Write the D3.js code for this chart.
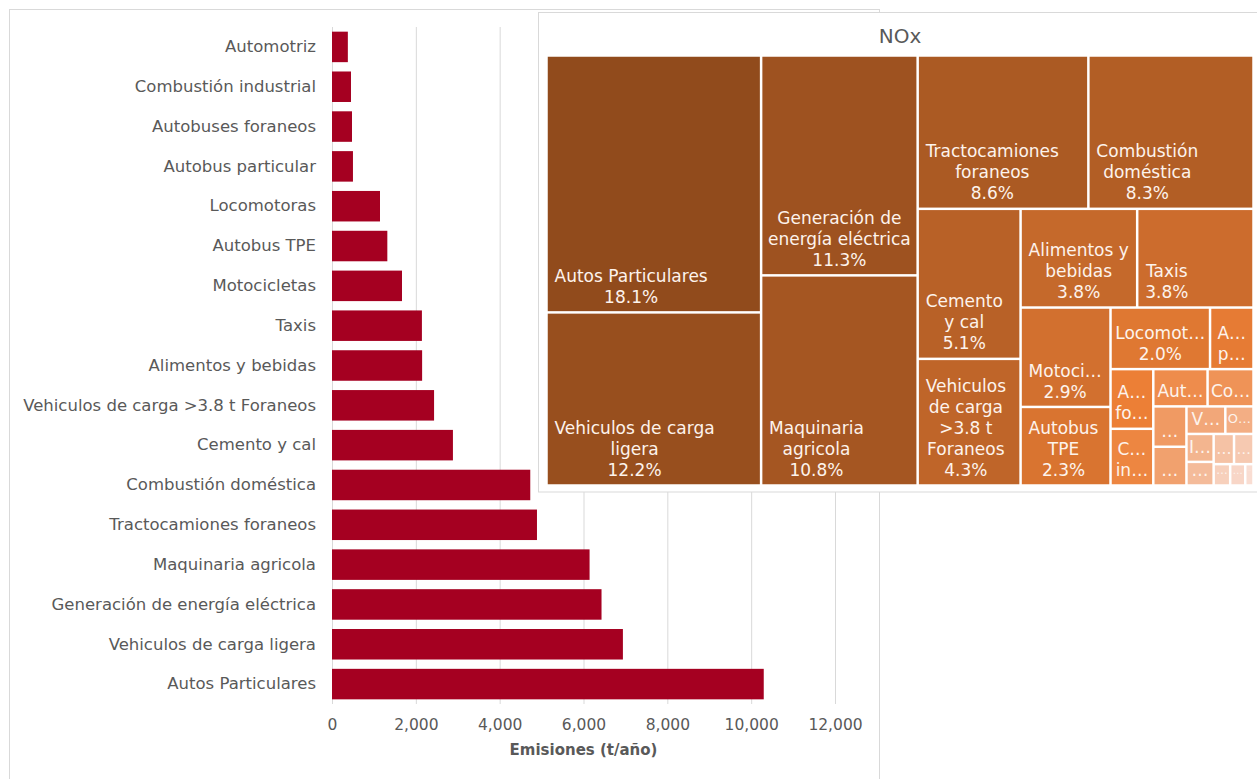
<!DOCTYPE html>
<html>
<head>
<meta charset="utf-8">
<script src="https://cdn.jsdelivr.net/npm/d3@7"></script>
<style>
  html, body { margin: 0; padding: 0; background: #ffffff; }
  svg { display: block; font-family: "DejaVu Sans", sans-serif; }
</style>
</head>
<body>
<svg id="chart" width="1257" height="779"></svg>
<script>
// ---------------- DATA ----------------
// Bar chart categories, top to bottom
const barCategories = [
  "Automotriz", "Combustión industrial", "Autobuses foraneos", "Autobus particular",
  "Locomotoras", "Autobus TPE", "Motocicletas", "Taxis", "Alimentos y bebidas",
  "Vehiculos de carga >3.8 t Foraneos", "Cemento y cal", "Combustión doméstica",
  "Tractocamiones foraneos", "Maquinaria agricola", "Generación de energía eléctrica",
  "Vehiculos de carga ligera", "Autos Particulares"
];
// Emissions (t/año), same order
const barValues = [
  378, 453, 477, 500,
  1145, 1320, 1670, 2145, 2150,
  2435, 2885, 4730,
  4890, 6145, 6430,
  6940, 10300
];
const xTickValues = [0, 2000, 4000, 6000, 8000, 10000, 12000];
const xAxisTitle = "Emisiones (t/año)";

// Smaller sources that only appear in the treemap
const extraCategories = [
  "Combustión comercial", "Metálica básica", "Minerales no metálicos",
  "Vehiculos de carga >3.8 t Locales", "Otros", "Industria química",
  "Madera y productos", "Papel y celulosa", "Maquinaria y equipo",
  "Minería", "Pinturas y tintas", "Metalmecánica"
];
const extraValues = [320, 250, 240, 200, 145, 142, 120, 115, 110, 66, 60, 33];

const treemapTitle = "NOx";
// Label lines as displayed in each treemap cell (same order as barCategories, then extraCategories)
const barTreemapLines = [
  ["Aut…"], ["C…", "in…"], ["A…", "fo…"], ["A…", "p…"],
  ["Locomot…"], ["Autobus", "TPE"], ["Motoci…"], ["Taxis"], ["Alimentos y", "bebidas"],
  ["Vehiculos", "de carga", ">3.8 t", "Foraneos"], ["Cemento", "y cal"], ["Combustión", "doméstica"],
  ["Tractocamiones", "foraneos"], ["Maquinaria", "agricola"], ["Generación de", "energía eléctrica"],
  ["Vehiculos de carga", "ligera"], ["Autos Particulares"]
];
const extraTreemapLines = [
  ["Co…"], ["…"], ["…"], ["V…"], ["O…"], ["I…"], ["…"], ["…"], ["…"], ["…"], ["…"], ["…"]
];

// ---------------- CHART ----------------
const svg = d3.select("#chart");
const grey = "#595959";
const gridColor = "#d9d9d9";

// Bar chart panel
svg.append("rect")
  .attr("x", 9.5).attr("y", 9.5).attr("width", 870).attr("height", 800)
  .attr("fill", "#ffffff").attr("stroke", gridColor);

const x = d3.scaleLinear().domain([0, 12000]).range([332, 835]);
const y = d3.scaleBand().domain(barCategories).range([27, 704])
  .paddingInner(0.234).paddingOuter(0.117);

// gridlines + tick labels
const xAxis = d3.axisBottom(x).tickValues(xTickValues)
  .tickFormat(d3.format(",")).tickSize(-(704 - 27)).tickPadding(15);
const gx = svg.append("g").attr("transform", "translate(0,704)").call(xAxis);
gx.select(".domain").remove();
gx.selectAll(".tick line").attr("stroke", gridColor).attr("stroke-width", 1);
gx.selectAll(".tick text").attr("fill", grey).attr("font-size", 15.5)
  .attr("font-family", "DejaVu Sans");

// bars
svg.append("g").selectAll("rect")
  .data(barCategories.map((c, i) => ({ c, v: barValues[i] })))
  .join("rect")
  .attr("x", x(0))
  .attr("y", d => y(d.c))
  .attr("width", d => x(d.v) - x(0))
  .attr("height", y.bandwidth())
  .attr("fill", "#A50021");

// category labels
const yAxis = d3.axisLeft(y).tickSize(0).tickPadding(16);
const gy = svg.append("g").attr("transform", `translate(${x(0)},0)`).call(yAxis);
gy.select(".domain").remove();
gy.selectAll(".tick text").attr("fill", grey).attr("font-size", 16.5)
  .attr("font-family", "DejaVu Sans");

// axis title
svg.append("text")
  .attr("x", (x(0) + x(12000)) / 2).attr("y", 755)
  .attr("text-anchor", "middle").attr("fill", grey)
  .attr("font-size", 15).attr("font-weight", "bold")
  .text(xAxisTitle);

// ---------------- TREEMAP ----------------
svg.append("rect")
  .attr("x", 538.5).attr("y", 12.5).attr("width", 730).attr("height", 479.5)
  .attr("fill", "#ffffff").attr("stroke", gridColor);

svg.append("text")
  .attr("x", 900).attr("y", 43).attr("text-anchor", "middle")
  .attr("fill", grey).attr("font-size", 20)
  .text(treemapTitle);

const tmData = barCategories.map((c, i) => ({ name: c, value: barValues[i], lines: barTreemapLines[i] }))
  .concat(extraCategories.map((c, i) => ({ name: c, value: extraValues[i], lines: extraTreemapLines[i] })));
const total = d3.sum(tmData, d => d.value);

const root = d3.hierarchy({ children: tmData })
  .sum(d => d.value || 0)
  .sort((a, b) => b.value - a.value);

const tmX0 = 546.5, tmY0 = 55.5, tmW = 707, tmH = 430;
d3.treemap().tile(d3.treemapSquarify.ratio(1)).size([tmW, tmH])(root);

const leaves = root.leaves();
const n = leaves.length;
const color = d3.scaleLinear()
  .domain([0, 14, n - 1])
  .range(["#914B1C", "#EC7F36", "#F9DDD2"]);

const pct = d3.format(".1%");
const tg = svg.append("g").attr("transform", `translate(${tmX0},${tmY0})`);
const gap = 1.25;
const lineH = 21;
const baseFs = 17;

const cells = tg.selectAll("g.cell").data(leaves).join("g").attr("class", "cell");
cells.append("rect")
  .attr("x", d => d.x0 + gap).attr("y", d => d.y0 + gap)
  .attr("width", d => Math.max(0, d.x1 - d.x0 - 2 * gap))
  .attr("height", d => Math.max(0, d.y1 - d.y0 - 2 * gap))
  .attr("fill", (d, i) => color(i));

cells.each(function (d) {
  const g = d3.select(this);
  const w = d.x1 - d.x0, h = d.y1 - d.y0;
  const maxLines = Math.max(1, Math.floor((h - 10) / lineH));
  const lines = d.data.lines.slice(0, maxLines);
  if (lines.length < maxLines) lines.push(pct(d.value / total));
  const txt = g.append("text").attr("fill", "#fdf3ec").attr("font-size", baseFs)
    .attr("text-anchor", "middle");
  const spans = lines.map(l => txt.append("tspan").text(l));
  const widths = spans.map(s => s.node().getComputedTextLength());
  let blockW = d3.max(widths);
  let fs = baseFs;
  if (blockW > w - 5) {
    fs = baseFs * (w - 5) / blockW;
    blockW = w - 5;
    txt.attr("font-size", fs);
  }
  const left = d.x0 + Math.min(8, (w - blockW) / 2);
  const cx = left + blockW / 2;
  const k = lines.length;
  spans.forEach((s, i) => {
    const cy = d.y1 - 15.5 - (k - 1 - i) * lineH;
    s.attr("x", cx).attr("y", cy + 0.36 * fs);
  });
});
</script>
</body>
</html>
